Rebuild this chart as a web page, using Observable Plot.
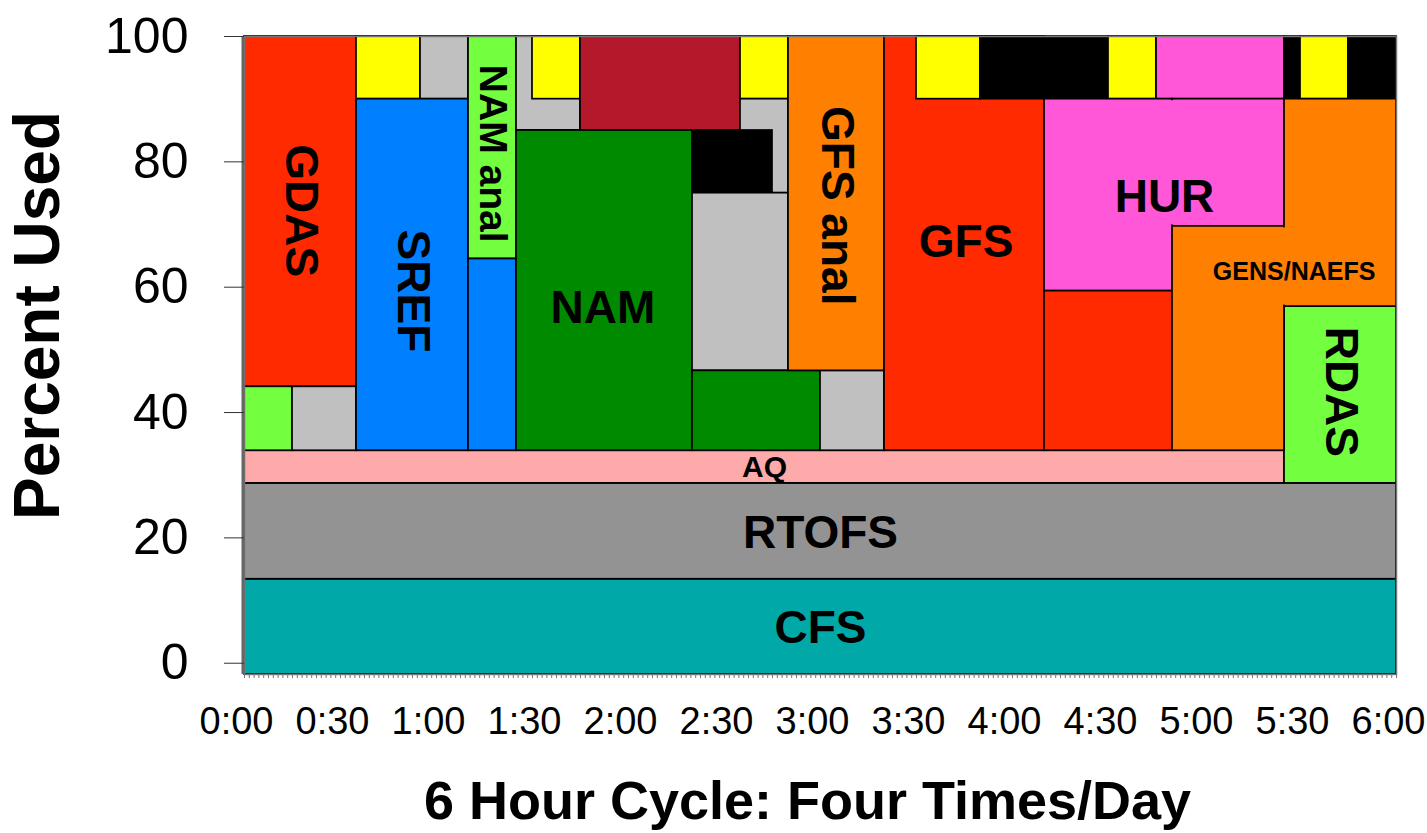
<!DOCTYPE html>
<html>
<head>
<meta charset="utf-8">
<script src="https://cdn.jsdelivr.net/npm/d3@7"></script>
<script src="https://cdn.jsdelivr.net/npm/@observablehq/plot@0.6"></script>
<style>
  html, body { margin: 0; padding: 0; background: #fff; overflow: hidden; }
  #chart svg { display: block; }
</style>
</head>
<body>
<div id="chart"></div>
<script>
// ---- Data (minutes into 6-hour cycle, percent of machine used) ----
const blockJob = [
  "CFS", "RTOFS", "AQ", "RDAS",
  "GDAS", "other-green", "other-gray", "other-yellow", "other-gray", "SREF",
  "NAM anal", "SREF", "other-gray", "other-yellow", "other-maroon",
  "other-yellow", "other-gray", "NAM", "other-black", "other-gray",
  "NAM", "other-gray", "GFS anal", "GFS", "other-yellow", "other-black",
  "other-yellow", "other-pink", "other-black", "other-yellow", "other-black",
  "GFS", "HUR", "HUR", "GENS/NAEFS", "GENS/NAEFS"
];
const blockStart = [
  0, 0, 0, 325,
  0, 0, 15, 35, 55, 35,
  70, 70, 85, 90, 105,
  155, 155, 85, 140, 140,
  140, 180, 170, 200, 210, 230,
  270, 285, 325, 330, 345,
  250, 250, 290, 290, 325
];
const blockEnd = [
  360, 360, 325, 360,
  35, 15, 35, 55, 70, 70,
  85, 85, 105, 105, 155,
  170, 170, 140, 165, 170,
  180, 200, 200, 250, 230, 270,
  285, 325, 330, 345, 360,
  290, 290, 325, 325, 360
];
const blockLow = [
  -1.8, 13.4, 28.7, 28.7,
  44.1, 33.9, 33.9, 90, 90, 33.9,
  64.5, 33.9, 85, 90, 85,
  90, 75, 33.9, 75, 46.65,
  33.9, 33.9, 46.65, 33.9, 90, 90,
  90, 90, 90, 90, 90,
  33.9, 59.4, 69.7, 33.9, 56.9
];
const blockHigh = [
  13.4, 28.7, 33.9, 56.9,
  100, 44.1, 44.1, 100, 100, 90,
  100, 64.5, 100, 100, 100,
  100, 90, 85, 85, 75,
  46.65, 46.65, 100, 100, 100, 100,
  100, 100, 100, 100, 100,
  59.4, 90, 90, 69.7, 90
];

// Jobs that are drawn as one merged (L-shaped) area: pieces joined without a seam
const mergeJob  = ["HUR", "GENS/NAEFS"];
const mergeStart = [250, 290];
const mergeEnd   = [325, 360];
const mergeLow   = [69.7, 56.9];
const mergeHigh  = [90, 69.7];

const jobNames  = ["CFS", "RTOFS", "AQ", "RDAS", "GDAS", "SREF", "NAM anal", "NAM",
                   "GFS anal", "GFS", "HUR", "GENS/NAEFS",
                   "other-green", "other-gray", "other-yellow", "other-maroon", "other-black", "other-pink"];
const jobColors = ["#00A8A8", "#939393", "#FFAAAA", "#73FF40", "#FF2A00", "#0080FF", "#73FF40", "#008A00",
                   "#FF7F00", "#FF2A00", "#FF57D8", "#FF7F00",
                   "#73FF40", "#C0C0C0", "#FFFF00", "#B3192B", "#000000", "#FF57D8"];

const labelText = ["GDAS", "SREF", "NAM anal", "NAM", "GFS anal", "GFS", "HUR", "GENS/NAEFS", "RDAS", "AQ", "RTOFS", "CFS"];
const labelTime = [17.5, 52.5, 77.5, 112, 185, 225.5, 287.5, 328, 342.5, 162.5, 180, 180];
const labelPct  = [72.2, 59.4, 81.3, 56.7, 73, 67.1, 74.4, 62.4, 43.3, 31.2, 20.8, 5.6];

const xTickValues = [0, 30, 60, 90, 120, 150, 180, 210, 240, 270, 300, 330, 360];
const xTickLabels = ["0:00", "0:30", "1:00", "1:30", "2:00", "2:30", "3:00", "3:30", "4:00", "4:30", "5:00", "5:30", "6:00"];
const yTickValues = [0, 20, 40, 60, 80, 100];

const xTitle = "6 Hour Cycle: Four Times/Day";
const yTitle = "Percent Used";

// ---- Build tables ----
const blocks = blockJob.map((job, i) => ({job, x1: blockStart[i], x2: blockEnd[i], y1: blockLow[i], y2: blockHigh[i]}));
const merges = mergeJob.map((job, i) => ({job, x1: mergeStart[i], x2: mergeEnd[i], y1: mergeLow[i], y2: mergeHigh[i]}));
const labels = labelText.map((text, i) => ({text, x: labelTime[i], y: labelPct[i]}));
const colorOf = Object.fromEntries(jobNames.map((n, i) => [n, jobColors[i]]));

const vertical = new Set(["GDAS", "SREF", "NAM anal", "GFS anal", "RDAS"]);
const labelSize = {"NAM anal": 39, "AQ": 30, "GENS/NAEFS": 25};
const minorTicks = d3.range(0, 360.01, 1.5);

const font = "'Liberation Sans', Arial, Helvetica, sans-serif";

const chart = Plot.plot({
  width: 1427,
  height: 833,
  marginLeft: 244,
  marginRight: 31,
  marginTop: 36,
  marginBottom: 159,
  x: {domain: [0, 360], axis: null},
  y: {domain: [-1.8, 100], axis: null},
  style: {fontFamily: font, background: "white", color: "black", overflow: "visible"},
  marks: [
    Plot.rect(blocks, {x1: "x1", x2: "x2", y1: "y1", y2: "y2", fill: d => colorOf[d.job], stroke: "black", strokeWidth: 1.7}),
    Plot.rect(merges, {x1: "x1", x2: "x2", y1: "y1", y2: "y2", fill: d => colorOf[d.job], inset: 1.5}),
    Plot.frame({stroke: "#777", strokeWidth: 1.5}),
    Plot.ruleX([0], {stroke: "#666", strokeWidth: 3, dx: -1.5}),
    Plot.axisY({ticks: yTickValues, tickSize: 20, tickPadding: 36, fontSize: 50, stroke: "#333", tickFormat: d => String(d)}),
    Plot.axisX({ticks: minorTicks, tickSize: 4, stroke: "#777", tickFormat: () => ""}),
    Plot.axisX({ticks: xTickValues, tickSize: 0, tickPadding: 33, fontSize: 38, dx: -8,
                tickFormat: d => xTickLabels[xTickValues.indexOf(d)]}),
    Plot.text(labels, {
      x: "x", y: "y", text: "text",
      rotate: d => vertical.has(d.text) ? 90 : 0,
      fontSize: d => labelSize[d.text] ?? 46,
      fontWeight: "bold", fill: "black",
      textAnchor: "middle", lineAnchor: "middle"
    }),
    Plot.text([yTitle], {frameAnchor: "left", dx: -206, dy: -40, rotate: -90, fontSize: 64, fontWeight: "bold",
                         textAnchor: "middle", lineAnchor: "middle"}),
    Plot.text([xTitle], {frameAnchor: "bottom", dx: -13, dy: 127, fontSize: 54, fontWeight: "bold",
                         textAnchor: "middle", lineAnchor: "middle"})
  ]
});
document.getElementById("chart").appendChild(chart);
</script>
</body>
</html>
